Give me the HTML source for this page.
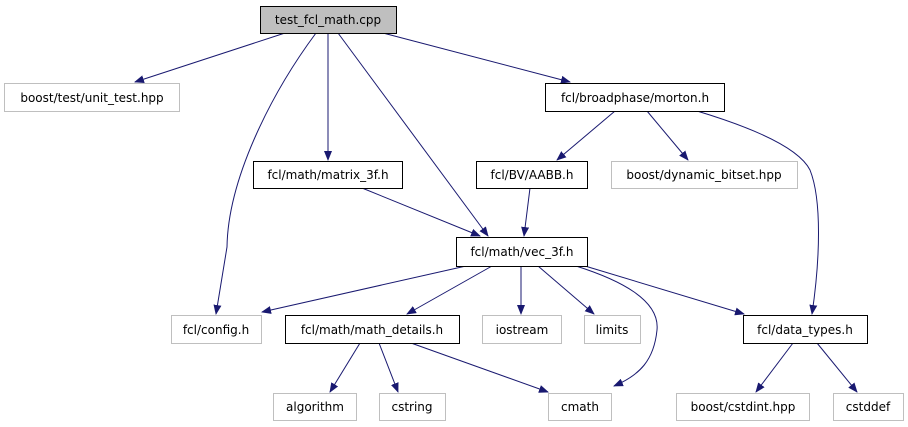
<!DOCTYPE html>
<html><head><style>body{margin:0;background:#fff}svg{display:block}text{font-family:"DejaVu Sans","Liberation Sans",sans-serif;font-size:12px;text-anchor:middle}</style></head><body>
<svg width="908" height="427" viewBox="0 0 908 427">
<defs><marker id="a" markerWidth="10" markerHeight="8" refX="9" refY="4" orient="auto" markerUnits="userSpaceOnUse"><path d="M0,0L10,4L0,8z" fill="#191970"/></marker></defs>
<g fill="none" stroke="#191970" stroke-width="1" marker-end="url(#a)">
<path d="M285,33L135,82"/>
<path d="M316,33C270,95 228,180 227,247 L216,314"/>
<path d="M328,33L328,160"/>
<path d="M338,33L488,236"/>
<path d="M383,33L570,82"/>
<path d="M362,188L480,236"/>
<path d="M615,111L557,160"/>
<path d="M647,111L688,160"/>
<path d="M697,111C760,130 800,150 810,170 C822,200 820,260 812,314"/>
<path d="M530,188L524,236"/>
<path d="M466,266L262,312"/>
<path d="M492,266L407,314"/>
<path d="M521,266L521,314"/>
<path d="M538,266L594,314"/>
<path d="M576,266C620,280 660,300 657,330 C654,360 640,375 614,386"/>
<path d="M585,266L744,314"/>
<path d="M360,343L330,392"/>
<path d="M379,343L398,392"/>
<path d="M411,343L548,392"/>
<path d="M793,343L756,392"/>
<path d="M817,343L857,392"/>
</g>
<g stroke-width="1">
<rect x="260.5" y="6.5" width="136" height="27" fill="#bfbfbf" stroke="#000"/>
<rect x="4.5" y="83.5" width="175" height="28" fill="#fff" stroke="#bfbfbf"/>
<rect x="545.5" y="83.5" width="179" height="28" fill="#fff" stroke="#000"/>
<rect x="253.5" y="161.5" width="149" height="27" fill="#fff" stroke="#000"/>
<rect x="476.5" y="161.5" width="111" height="27" fill="#fff" stroke="#000"/>
<rect x="611.5" y="161.5" width="186" height="27" fill="#fff" stroke="#bfbfbf"/>
<rect x="456.5" y="237.5" width="131" height="29" fill="#fff" stroke="#000"/>
<rect x="171.5" y="315.5" width="90" height="28" fill="#fff" stroke="#bfbfbf"/>
<rect x="285.5" y="315.5" width="174" height="28" fill="#fff" stroke="#000"/>
<rect x="482.5" y="315.5" width="79" height="28" fill="#fff" stroke="#bfbfbf"/>
<rect x="584.5" y="315.5" width="56" height="28" fill="#fff" stroke="#bfbfbf"/>
<rect x="743.5" y="315.5" width="124" height="28" fill="#fff" stroke="#000"/>
<rect x="273.5" y="393.5" width="83" height="27" fill="#fff" stroke="#bfbfbf"/>
<rect x="379.5" y="393.5" width="66" height="27" fill="#fff" stroke="#bfbfbf"/>
<rect x="548.5" y="393.5" width="63" height="27" fill="#fff" stroke="#bfbfbf"/>
<rect x="676.5" y="393.5" width="133" height="27" fill="#fff" stroke="#bfbfbf"/>
<rect x="833.5" y="393.5" width="70" height="27" fill="#fff" stroke="#bfbfbf"/>
</g>
<g fill="#000">
<text x="328" y="24">test_fcl_math.cpp</text>
<text x="92" y="102">boost/test/unit_test.hpp</text>
<text x="635" y="102">fcl/broadphase/morton.h</text>
<text x="328" y="179">fcl/math/matrix_3f.h</text>
<text x="532" y="179">fcl/BV/AABB.h</text>
<text x="704" y="179">boost/dynamic_bitset.hpp</text>
<text x="522" y="256">fcl/math/vec_3f.h</text>
<text x="216" y="334">fcl/config.h</text>
<text x="372" y="334">fcl/math/math_details.h</text>
<text x="522" y="334">iostream</text>
<text x="612" y="334">limits</text>
<text x="805" y="334">fcl/data_types.h</text>
<text x="315" y="411">algorithm</text>
<text x="412" y="411">cstring</text>
<text x="580" y="411">cmath</text>
<text x="743" y="411">boost/cstdint.hpp</text>
<text x="868" y="411">cstddef</text>
</g>
</svg>
</body></html>
